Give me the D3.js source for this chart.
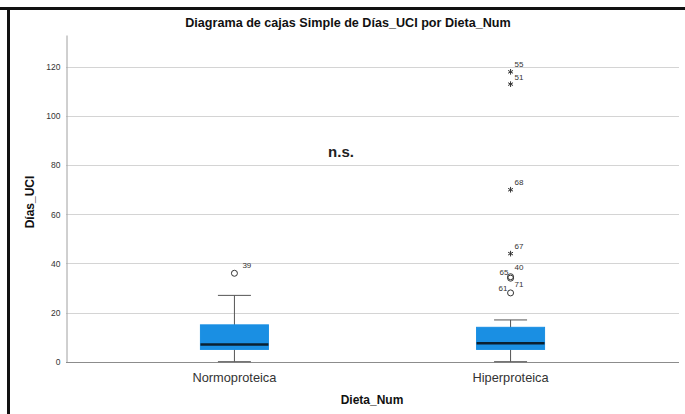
<!DOCTYPE html>
<html>
<head>
<meta charset="utf-8">
<script src="https://cdn.jsdelivr.net/npm/d3@7"></script>
<style>
  body { margin: 0; background: #fff; }
  svg { display: block; font-family: "Liberation Sans", Arial, sans-serif; }
</style>
</head>
<body>
<svg id="chart" width="685" height="414"></svg>
<script>
// Chart data
const categories = ["Normoproteica", "Hiperproteica"];
const whiskerLow = [0, 0];
const q1 = [5, 5];
const medians = [7, 7.5];
const q3 = [15, 14];
const whiskerHigh = [27, 17];
// outliers: [category, value, case label, kind]
const outliers = [
  ["Normoproteica", 36, "39", "o"],
  ["Hiperproteica", 118, "55", "*"],
  ["Hiperproteica", 113, "51", "*"],
  ["Hiperproteica", 70, "68", "*"],
  ["Hiperproteica", 44, "67", "*"],
  ["Hiperproteica", 34.6, "40", "o"],
  ["Hiperproteica", 34.0, "65", "o"],
  ["Hiperproteica", 28, "61", "o"]
];
const labelOffsets = { "39": [8, -8], "55": [4, -8], "51": [4, -7], "68": [4, -8], "67": [4, -8], "40": [4, -10], "65": [-11, -6], "61": [-12, -5] };
const yTicks = [0, 20, 40, 60, 80, 100, 120];

const svg = d3.select("#chart");
const plotLeft = 66, plotRight = 679, plotTop = 35, plotBottom = 361.7;

const x = d3.scalePoint().domain(categories).range([plotLeft, plotRight]).padding(0.61);
const y = d3.scaleLinear().domain([0, 133]).range([plotBottom, plotTop]);

// frame
svg.append("line").attr("x1", 0).attr("x2", 685).attr("y1", 8.5).attr("y2", 8.5)
  .attr("stroke", "#111").attr("stroke-width", 3);
svg.append("line").attr("x1", 8.5).attr("x2", 8.5).attr("y1", 7).attr("y2", 414)
  .attr("stroke", "#111").attr("stroke-width", 3);

// gridlines
svg.append("g").selectAll("line").data(yTicks.filter(d => d > 0)).join("line")
  .attr("x1", plotLeft).attr("x2", plotRight)
  .attr("y1", d => Math.round(y(d)) + 0.5).attr("y2", d => Math.round(y(d)) + 0.5)
  .attr("stroke", "#d4d4d4");

// y axis
const yAxis = svg.append("g").attr("transform", `translate(${plotLeft + 0.5},0)`)
  .call(d3.axisLeft(y).tickValues(yTicks).tickSize(0).tickPadding(6));
yAxis.select(".domain").attr("stroke", "#a0a0a0");
yAxis.selectAll("text").attr("font-size", 8.5).attr("fill", "#333")
  .attr("font-family", "Liberation Sans, Arial, sans-serif");

// baseline
svg.append("line").attr("x1", plotLeft).attr("x2", plotRight)
  .attr("y1", Math.round(y(0)) + 0.5).attr("y2", Math.round(y(0)) + 0.5)
  .attr("stroke", "#8c8c8c");

// category labels
svg.append("g").selectAll("text").data(categories).join("text")
  .attr("x", d => x(d)).attr("y", 382)
  .attr("text-anchor", "middle").attr("font-size", 12.8).attr("fill", "#333")
  .text(d => d);

// boxes
const boxW = 68, capW = 33;
const groups = svg.append("g").selectAll("g").data(categories).join("g");
groups.append("line")
  .attr("x1", d => x(d)).attr("x2", d => x(d))
  .attr("y1", (d, i) => y(whiskerLow[i])).attr("y2", (d, i) => y(whiskerHigh[i]))
  .attr("stroke", "#555");
groups.append("line")
  .attr("x1", d => x(d) - capW / 2).attr("x2", d => x(d) + capW / 2)
  .attr("y1", (d, i) => y(whiskerHigh[i])).attr("y2", (d, i) => y(whiskerHigh[i]))
  .attr("stroke", "#555");
groups.append("line")
  .attr("x1", d => x(d) - capW / 2).attr("x2", d => x(d) + capW / 2)
  .attr("y1", (d, i) => y(whiskerLow[i])).attr("y2", (d, i) => y(whiskerLow[i]))
  .attr("stroke", "#555");
groups.append("rect")
  .attr("x", d => x(d) - boxW / 2).attr("width", boxW)
  .attr("y", (d, i) => y(q3[i])).attr("height", (d, i) => y(q1[i]) - y(q3[i]))
  .attr("fill", "#1a8fe3").attr("stroke", "#1a8fe3");
groups.append("line")
  .attr("x1", d => x(d) - boxW / 2).attr("x2", d => x(d) + boxW / 2)
  .attr("y1", (d, i) => y(medians[i])).attr("y2", (d, i) => y(medians[i]))
  .attr("stroke", "#0b2030").attr("stroke-width", 2.5);

// outliers (circles) and extremes (asterisks)
const star = d3.symbol(d3.symbolAsterisk, 22);
const out = svg.append("g");
outliers.forEach(([cat, v, lab, kind]) => {
  const cx = x(cat), cy = y(v);
  if (kind === "o") {
    out.append("circle").attr("cx", cx).attr("cy", cy).attr("r", 3)
      .attr("fill", "none").attr("stroke", "#333").attr("stroke-width", 1);
  } else {
    out.append("path").attr("d", star).attr("transform", `translate(${cx},${cy})`)
      .attr("fill", "none").attr("stroke", "#333").attr("stroke-width", 1);
  }
  const off = labelOffsets[lab];
  out.append("text").attr("x", cx + off[0]).attr("y", cy + off[1] + 3)
    .attr("font-size", 8).attr("fill", "#333").text(lab);
});
// label for the overlapping case 71
out.append("text").attr("x", x("Hiperproteica") + 4).attr("y", y(34) + 9)
  .attr("font-size", 8).attr("fill", "#333").text("71");

// annotation
svg.append("text").attr("x", 341).attr("y", 157).attr("text-anchor", "middle")
  .attr("font-size", 15).attr("font-weight", "bold").attr("fill", "#222").text("n.s.");

// titles
svg.append("text").attr("x", 348).attr("y", 27).attr("text-anchor", "middle")
  .attr("font-size", 12.6).attr("font-weight", "bold").attr("fill", "#111")
  .text("Diagrama de cajas Simple de Días_UCI por Dieta_Num");
svg.append("text").attr("x", 372).attr("y", 404).attr("text-anchor", "middle")
  .attr("font-size", 12).attr("font-weight", "bold").attr("fill", "#111").text("Dieta_Num");
svg.append("text").attr("transform", "translate(34,202) rotate(-90)").attr("text-anchor", "middle")
  .attr("font-size", 12).attr("font-weight", "bold").attr("fill", "#111").text("Días_UCI");
</script>
</body>
</html>
